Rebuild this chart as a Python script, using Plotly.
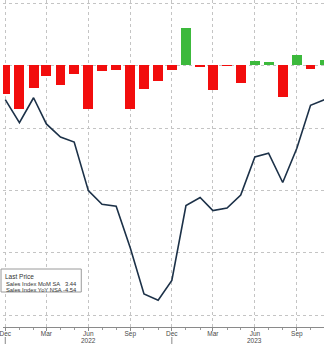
import plotly.graph_objects as go

# ---- data ----
months = ["2021-12-01", "2022-01-01", "2022-02-01", "2022-03-01", "2022-04-01", "2022-05-01",
          "2022-06-01", "2022-07-01", "2022-08-01", "2022-09-01", "2022-10-01", "2022-11-01",
          "2022-12-01", "2023-01-01", "2023-02-01", "2023-03-01", "2023-04-01", "2023-05-01",
          "2023-06-01", "2023-07-01", "2023-08-01", "2023-09-01", "2023-10-01", "2023-11-01"]
mom_sa = [-6.2, -9.4, -4.8, -2.2, -4.3, -1.9, -9.5, -1.2, -1.0, -9.5, -5.2, -3.4,
          -1.1, 8.1, -0.4, -5.3, -0.1, -3.9, 0.9, 0.7, -6.8, 2.2, -0.9, 1.1]
yoy_nsa = [-5.4, -9.1, -5.1, -9.3, -11.4, -12.2, -20.0, -22.2, -22.5, -29.2, -36.6, -37.6,
           -34.4, -22.4, -21.1, -23.2, -22.8, -20.7, -14.6, -14.0, -18.7, -13.2, -6.3, -5.4]
tick_vals = ["2021-12-01", "2022-03-01", "2022-06-01", "2022-09-01",
             "2022-12-01", "2023-03-01", "2023-06-01", "2023-09-01"]
tick_text = ["Dec", "Mar", "Jun", "Sep", "Dec", "Mar", "Jun", "Sep"]
year_labels = [("2022-06-01", "2022"), ("2023-06-01", "2023")]
year_breaks = ["2021-12-01", "2022-12-01"]
legend_title = "Last Price"
legend_rows = [("Sales Index MoM SA", "3.44"), ("Sales Index YoY NSA", "-4.54")]

W, H = 324, 344
B = 17
PH = H - B

def px(x):
    return x / W

def py(y):
    return (PH - y) / PH

RED = "#f20d0d"
GREEN = "#3cb93c"
NAVY = "#1c3148"
GRID = "#c4c4c4"
FONT = "Liberation Sans"
TXT = "#4a4a4a"

bar_colors = [GREEN if v >= 0 else RED for v in mom_sa]

fig = go.Figure()
fig.add_trace(go.Bar(x=months, y=mom_sa, marker=dict(color=bar_colors, line=dict(width=0)),
                     width=21.7 * 86400000, yaxis="y", showlegend=False))
fig.add_trace(go.Scatter(x=months, y=yoy_nsa, mode="lines", line=dict(color=NAVY, width=1.6),
                         yaxis="y2", showlegend=False))

shapes = []
for d in year_breaks:
    shapes.append(dict(type="line", xref="x", yref="paper", x0=d, x1=d,
                       y0=py(337), y1=py(346), line=dict(color="#888888", width=1)))
shapes.append(dict(type="rect", xref="paper", yref="paper", x0=px(-2), x1=px(79),
                   y0=py(292), y1=py(269), fillcolor="white",
                   line=dict(color="#9a9a9a", width=1), layer="above"))

annotations = []
for d, t in year_labels:
    annotations.append(dict(x=d, xref="x", y=py(340.5), yref="paper", text=t, showarrow=False,
                            font=dict(family=FONT, size=6.5, color=TXT),
                            xanchor="center", yanchor="middle"))
annotations.append(dict(x=px(0.5), y=py(276.8), xref="paper", yref="paper", text=legend_title,
                        showarrow=False, xanchor="left", yanchor="middle",
                        font=dict(family=FONT, size=6.5, color="#333333")))
for i, (name, val) in enumerate(legend_rows):
    yy = 283.6 + i * 6.6
    annotations.append(dict(x=px(1.5), y=py(yy), xref="paper", yref="paper", text=name,
                            showarrow=False, xanchor="left", yanchor="middle",
                            font=dict(family=FONT, size=5.8, color="#333333")))
    annotations.append(dict(x=px(77), y=py(yy), xref="paper", yref="paper", text=val,
                            showarrow=False, xanchor="right", yanchor="middle",
                            font=dict(family=FONT, size=5.8, color="#333333")))

fig.update_layout(
    width=W, height=H,
    margin=dict(l=0, r=0, t=0, b=B, pad=0),
    paper_bgcolor="white", plot_bgcolor="white",
    bargap=0,
    xaxis=dict(type="date", range=["2021-11-26", "2023-10-30 12:00"],
               tickmode="array", tickvals=tick_vals, ticktext=tick_text,
               tickfont=dict(family=FONT, size=6.5, color=TXT),
               ticklabeloverflow="allow", ticklabelstandoff=-3,
               showgrid=True, gridcolor=GRID, griddash="dot", gridwidth=1,
               showline=True, linecolor="#8a8a8a", linewidth=1,
               ticks="outside", ticklen=3, tickcolor="#8a8a8a",
               minor=dict(dtick="M1", tick0="2021-12-01", ticks="outside", ticklen=2,
                          tickcolor="#9a9a9a", showgrid=False),
               zeroline=False, fixedrange=True),
    yaxis=dict(range=[-56.28, 14.04], visible=False, showgrid=False, zeroline=False),
    yaxis2=dict(range=[-41.89, 10.59], overlaying="y", side="right", showticklabels=False,
                tickvals=[10, 0, -10, -20, -30, -40], ticks="",
                showgrid=True, gridcolor=GRID, griddash="dot", gridwidth=1,
                zeroline=False, showline=False),
    shapes=shapes,
    annotations=annotations,
)

fig.write_html("out.html")
